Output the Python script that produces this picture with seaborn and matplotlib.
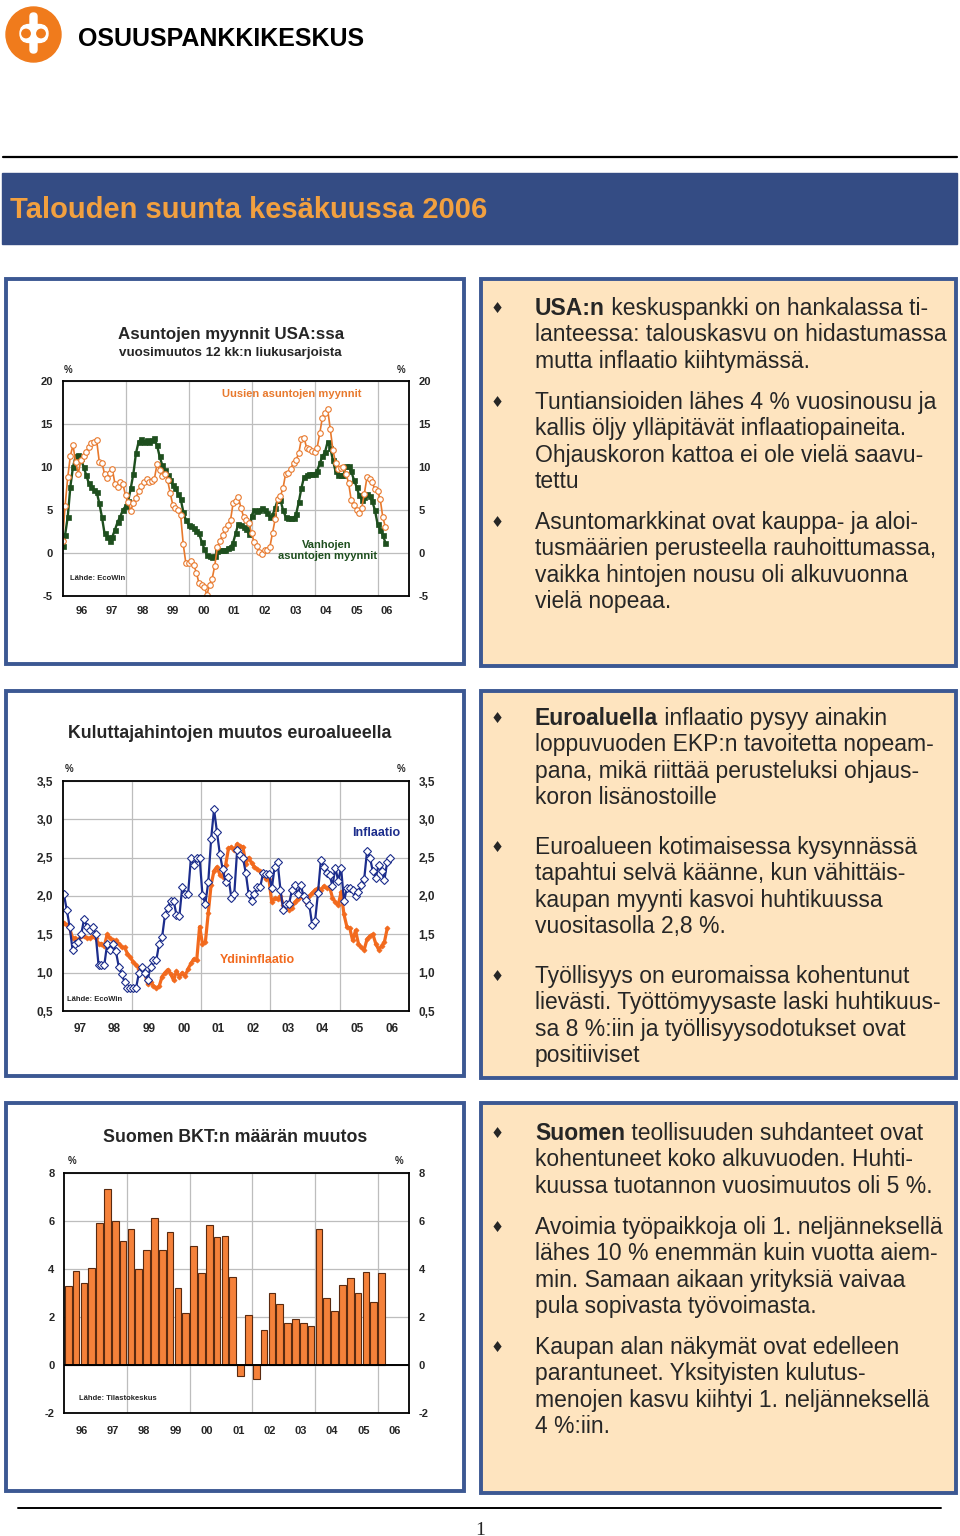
import numpy as np
import pandas as pd
import matplotlib
matplotlib.use('Agg')
import matplotlib.pyplot as plt
import seaborn as sns
from matplotlib.patches import Rectangle, Circle, FancyBboxPatch

W, H = 960, 1536

# USA: home sales, y/y change of 12 month rolling sums, %, monthly from Jan 1996
new_home_sales = [
    1.4, 5.5, 8.8, 11.3, 12.5, 10.6, 9.2, 10.8, 11.3, 11.7, 12.3, 12.8,
    12.9, 13.1, 10.6, 10.5, 9.2, 8.7, 9.3, 9.7, 8.0, 7.7, 8.2, 8.0,
    6.7, 5.9, 4.9, 5.8, 6.4, 7.2, 7.8, 8.2, 8.6, 8.2, 8.3, 8.6,
    10.3, 9.6, 8.9, 9.2, 8.5, 7.0, 5.6, 5.2, 5.0, 4.4, 1.0, -1.2,
    -1.2, -0.9, -1.4, -2.3, -3.5, -3.7, -3.9, -4.9, -3.7, -3.0, -1.5, 0.7,
    1.4, 2.1, 2.8, 3.3, 3.8, 5.8, 6.0, 6.5, 5.2, 4.2, 3.8, 3.5,
    2.3, 1.3, 0.8, 0.1, -0.1, 0.3, 0.3, 0.7, 2.3, 3.9, 6.3, 6.6,
    7.5, 9.2, 9.3, 9.8, 10.5, 10.8, 11.6, 13.2, 13.4, 12.2, 12.1, 11.8,
    11.7, 12.2, 13.9, 15.7, 16.2, 16.7, 14.4, 12.0, 10.5, 9.8, 9.9, 10.0,
    9.2, 8.1, 6.1, 5.6, 5.0, 4.6, 5.2, 6.9, 8.8, 8.6, 8.2, 7.4,
    7.2, 6.3, 4.2, 3.0,
]
existing_home_sales = [
    0.8, 2.1, 4.2, 7.7, 10.0, 11.2, 11.4, 11.0, 10.0, 9.1, 8.1, 7.7,
    7.3, 7.1, 5.8, 4.2, 2.3, 1.9, 1.4, 1.9, 2.7, 3.6, 4.2, 5.0,
    5.4, 6.0, 7.5, 9.2, 11.6, 12.9, 13.2, 12.9, 13.1, 12.9, 13.1, 13.3,
    12.5, 11.2, 10.2, 9.6, 9.1, 8.5, 7.9, 7.5, 6.9, 6.3, 4.8, 3.8,
    3.3, 3.1, 2.9, 2.5, 2.3, 1.3, 0.5, -0.2, -0.4, -0.5, -0.4, 0.2,
    0.3, 0.3, 0.3, 0.6, 0.7, 1.2, 2.3, 3.4, 3.3, 3.0, 2.8, 2.2,
    4.3, 5.0, 4.9, 5.0, 5.2, 5.0, 4.6, 4.2, 4.4, 5.2, 6.2, 6.2,
    5.0, 4.2, 4.1, 4.0, 4.0, 4.5, 5.9, 7.5, 8.8, 9.0, 9.2, 9.2,
    9.2, 9.5, 10.4, 11.2, 11.7, 12.9, 12.2, 10.8, 9.5, 9.0, 9.0, 9.0,
    10.1, 10.1, 9.5, 8.5, 7.7, 6.7, 6.2, 6.5, 6.8, 6.6, 6.0, 5.0,
    3.4, 2.7, 2.1, 1.2,
]

# Euro area consumer prices, y/y %, monthly from Jan 1997
hicp_inflation = [
    2.02, 1.82, 1.60, 1.30, 1.38, 1.40, 1.50, 1.70, 1.60, 1.55, 1.60, 1.50,
    1.10, 1.10, 1.10, 1.38, 1.30, 1.38, 1.28, 1.08, 0.98, 0.88, 0.80, 0.80,
    0.80, 0.80, 1.00, 1.08, 1.00, 0.90, 1.08, 1.16, 1.16, 1.38, 1.46, 1.75,
    1.85, 1.94, 1.94, 1.75, 1.74, 2.12, 2.02, 2.02, 2.50, 2.40, 2.50, 2.50,
    2.01, 1.90, 2.18, 2.75, 3.13, 2.84, 2.55, 2.35, 2.18, 2.25, 1.97, 2.02,
    2.60, 2.54, 2.50, 2.30, 2.02, 1.93, 2.02, 2.12, 2.12, 2.30, 2.29, 2.29,
    2.10, 2.38, 2.45, 2.08, 1.82, 1.90, 1.90, 2.08, 2.15, 2.02, 2.15, 2.00,
    1.95, 1.88, 1.62, 1.68, 2.04, 2.47, 2.38, 2.30, 2.28, 2.13, 2.37, 2.20,
    2.37, 1.93, 2.10, 2.10, 2.08, 2.00, 2.05, 2.15, 2.22, 2.59, 2.50, 2.32,
    2.24, 2.40, 2.33, 2.21, 2.45, 2.50,
]
core_inflation = [
    1.65, 1.62, 1.58, 1.45, 1.45, 1.42, 1.48, 1.48, 1.45, 1.45, 1.48, 1.45,
    1.38, 1.38, 1.35, 1.50, 1.45, 1.42, 1.42, 1.38, 1.33, 1.33, 1.25, 1.20,
    1.14, 1.10, 1.05, 1.04, 1.00, 0.85, 0.88, 0.83, 0.80, 0.82, 0.95, 1.00,
    1.04, 0.98, 0.90, 1.02, 0.95, 1.00, 0.96, 1.05, 1.12, 1.18, 1.16, 1.60,
    1.38, 1.40, 1.78, 2.15, 2.33, 2.38, 2.28, 2.25, 2.40, 2.62, 2.64, 2.60,
    2.68, 2.65, 2.64, 2.42, 2.50, 2.43, 2.38, 2.35, 2.32, 2.28, 2.22, 2.22,
    1.92, 1.97, 1.96, 2.00, 1.88, 1.90, 1.82, 1.85, 1.92, 1.96, 2.00, 1.97,
    1.92, 2.00, 2.04, 2.08, 2.10, 2.08, 2.13, 2.10, 2.12, 1.98, 1.92, 1.88,
    2.05, 1.76, 1.60, 1.58, 1.42, 1.55, 1.38, 1.33, 1.30, 1.44, 1.48, 1.50,
    1.38, 1.30, 1.35, 1.40, 1.58,
]

# Finland GDP volume, y/y %, quarterly from 1996 Q1
gdp_change = [
    3.32, 3.92, 3.42, 4.07, 5.92, 7.33, 6.01, 5.19, 5.69, 4.03, 4.82, 6.15,
    4.82, 5.56, 3.21, 2.19, 4.99, 3.86, 5.83, 5.33, 5.40, 3.69, -0.44, 2.08,
    -0.57, 1.49, 3.03, 2.57, 1.76, 1.94, 1.75, 1.62, 5.69, 2.82, 2.25, 3.35,
    3.64, 3.00, 3.90, 2.64, 3.86,
]

labels_96 = ['96', '97', '98', '99', '00', '01', '02', '03', '04', '05', '06']
labels_97 = labels_96[1:]

usa_bullets = [
    ('USA:n', [' keskuspankki on hankalassa ti-',
               'lanteessa: talouskasvu on hidastumassa',
               'mutta inflaatio kiihtymässä.']),
    ('', ['Tuntiansioiden lähes 4 % vuosinousu ja',
          'kallis öljy ylläpitävät inflaatiopaineita.',
          'Ohjauskoron kattoa ei ole vielä saavu-',
          'tettu']),
    ('', ['Asuntomarkkinat ovat kauppa- ja aloi-',
          'tusmäärien perusteella rauhoittumassa,',
          'vaikka hintojen nousu oli alkuvuonna',
          'vielä nopeaa.']),
]
euro_bullets = [
    ('Euroaluella', [' inflaatio pysyy ainakin',
                     'loppuvuoden EKP:n tavoitetta nopeam-',
                     'pana, mikä riittää perusteluksi ohjaus-',
                     'koron lisänostoille']),
    ('', ['Euroalueen kotimaisessa kysynnässä',
          'tapahtui selvä käänne, kun vähittäis-',
          'kaupan myynti kasvoi huhtikuussa',
          'vuositasolla 2,8 %.']),
    ('', ['Työllisyys on euromaissa kohentunut',
          'lievästi. Työttömyysaste laski huhtikuus-',
          'sa 8 %:iin ja työllisyysodotukset ovat',
          'positiiviset']),
]
fin_bullets = [
    ('Suomen', [' teollisuuden suhdanteet ovat',
                'kohentuneet koko alkuvuoden. Huhti-',
                'kuussa tuotannon vuosimuutos oli 5 %.']),
    ('', ['Avoimia työpaikkoja oli 1. neljänneksellä',
          'lähes 10 % enemmän kuin vuotta aiem-',
          'min. Samaan aikaan yrityksiä vaivaa',
          'pula sopivasta työvoimasta.']),
    ('', ['Kaupan alan näkymät ovat edelleen',
          'parantuneet. Yksityisten kulutus-',
          'menojen kasvu kiihtyi 1. neljänneksellä',
          '4 %:iin.']),
]

BLUE_FRAME = '#3C5893'
PEACH = '#FEE4BF'
OP_ORANGE = '#F07B1C'


def px_axes(fig, x0, y0, x1, y1):
    """Axes placed by pixel box (top-left origin)."""
    return fig.add_axes([x0 / W, 1 - y1 / H, (x1 - x0) / W, (y1 - y0) / H])


def style_chart(ax, xlim, ylim, yticks, ylabels, grid_x, label_x, labels,
                size, xpad):
    ax.set_facecolor('none')
    ax.set_xlim(xlim)
    ax.set_ylim(ylim)
    ax.set_yticks(yticks, labels=ylabels)
    ax.set_xticks(grid_x, labels=[''] * len(grid_x))
    ax.set_xticks(label_x, labels=labels, minor=True)
    ax.tick_params(axis='both', which='both', length=0, labelsize=size)
    ax.tick_params(axis='y', labelleft=True, labelright=True, pad=7)
    ax.tick_params(axis='x', which='minor', pad=xpad)
    ax.grid(True, which='major', color='#BDBDBD', linewidth=0.9)
    ax.grid(False, which='minor')
    ax.set_axisbelow(True)
    for s in ax.spines.values():
        s.set_visible(True)
        s.set_color('black')
        s.set_linewidth(1.3)
    ax.set_xlabel('')
    ax.set_ylabel('')


def draw_bullets(ax, renderer, bullets, starts, step=26.3):
    for (bold, lines), y0 in zip(bullets, starts):
        ax.text(497, y0 + 6, '\u2666', fontsize=10.5, ha='center',
                va='baseline', family=['DejaVu Sans'])
        for k, line in enumerate(lines):
            y = y0 + k * step + 8
            x = 535
            if k == 0 and bold:
                t = ax.text(x, y, bold, fontsize=16.5, fontweight='bold',
                            va='baseline')
                bb = t.get_window_extent(renderer)
                x = ax.transData.inverted().transform((bb.x1, bb.y0))[0]
            ax.text(x, y, line, fontsize=16.5, fontweight='normal',
                    va='baseline')


def main():
    sns.set_theme(style='white')
    plt.rcParams['font.family'] = ['Liberation Sans', 'DejaVu Sans']
    plt.rcParams['font.weight'] = 'bold'

    fig = plt.figure(figsize=(W / 100, H / 100), dpi=100)
    renderer = fig.canvas.get_renderer()

    # page background layer in pixel coordinates
    bg = fig.add_axes([0, 0, 1, 1], zorder=-10)
    bg.set_xlim(0, W)
    bg.set_ylim(H, 0)
    bg.axis('off')

    # logo
    bg.add_patch(Circle((33.5, 34.5), 27.5, color=OP_ORANGE))
    bg.add_patch(FancyBboxPatch((20, 24.5), 28, 18,
                                boxstyle='round,pad=0,rounding_size=9',
                                color='white'))
    bg.add_patch(FancyBboxPatch((30, 13), 7, 40,
                                boxstyle='round,pad=0,rounding_size=3.5',
                                color='white'))
    bg.add_patch(Circle((26, 33.5), 4.2, color=OP_ORANGE))
    bg.add_patch(Circle((41, 33.5), 4.2, color=OP_ORANGE))
    bg.text(78, 46, 'OSUUSPANKKIKESKUS', fontsize=18, fontweight='bold',
            va='baseline', color='black')

    bg.plot([3, 957], [157, 157], color='black', linewidth=1.6)
    bg.add_patch(Rectangle((2, 173), 955, 71, color='#344C84'))
    bg.text(10, 218, 'Talouden suunta kesäkuussa 2006', fontsize=21,
            fontweight='bold', color='#F2A03F', va='baseline')

    # panels
    for top, bottom in [(279, 664), (691, 1076), (1103, 1491)]:
        bg.add_patch(Rectangle((6, top), 458, bottom - top, facecolor='white',
                               edgecolor=BLUE_FRAME, linewidth=2.8))
        bg.add_patch(Rectangle((481, top), 475, bottom - top + 2,
                               facecolor=PEACH, edgecolor=BLUE_FRAME,
                               linewidth=2.8))

    draw_bullets(bg, renderer, usa_bullets, [307, 401, 521])
    draw_bullets(bg, renderer, euro_bullets, [717, 846, 975])
    draw_bullets(bg, renderer, fin_bullets, [1132, 1226, 1346])

    bg.plot([18, 941], [1508, 1508], color='black', linewidth=1.4)
    bg.text(480, 1535, '1', fontsize=14, fontweight='normal', ha='center',
            va='baseline', family=['Liberation Serif'])

    # ---- chart 1: US home sales ----
    housing = pd.DataFrame({
        't': 1996 + np.arange(len(new_home_sales)) / 12,
        'new': new_home_sales,
        'existing': existing_home_sales,
    })
    ax1 = px_axes(fig, 62.5, 380.7, 409, 596)
    sns.lineplot(data=housing, x='t', y='existing', ax=ax1, color='#1E4F1E',
                 linewidth=1.7, marker='s', markersize=3.6,
                 markeredgecolor='#1E4F1E', markeredgewidth=0.5)
    sns.lineplot(data=housing, x='t', y='new', ax=ax1, color='#E8792D',
                 linewidth=1.2, marker='o', markersize=4,
                 markerfacecolor='white', markeredgecolor='#E8792D',
                 markeredgewidth=0.8)
    style_chart(ax1, (1996, 2007), (-5, 20), [-5, 0, 5, 10, 15, 20],
                ['-5', '0', '5', '10', '15', '20'],
                [1998, 2000, 2002, 2004, 2006],
                np.linspace(1996.6, 2006.3, 11), labels_96, 8, 7.5)
    ax1.text(2003.27, 18.4, 'Uusien asuntojen myynnit', color='#E8792D',
             fontsize=8, ha='center', va='center')
    ax1.text(2004.4, 0.25, 'Vanhojen\nasuntojen myynnit', color='#1E4F1E',
             fontsize=8, ha='center', va='center', linespacing=1.1)
    ax1.text(1996.24, -2.94, 'Lähde: EcoWin', fontsize=5.5, va='center')
    bg.text(231, 334, 'Asuntojen myynnit USA:ssa', fontsize=12.2,
            ha='center', va='center')
    bg.text(230, 353, 'vuosimuutos 12 kk:n liukusarjoista', fontsize=9.6,
            ha='center', va='center')
    bg.text(68, 370, '%', fontsize=7, ha='center', va='center')
    bg.text(401, 370, '%', fontsize=7, ha='center', va='center')

    # ---- chart 2: euro area consumer prices ----
    ax2 = px_axes(fig, 62.5, 781, 409, 1011)
    t_hicp = 1997.04 + np.arange(len(hicp_inflation)) / 12
    t_core = 1997.04 + np.arange(len(core_inflation)) / 12
    sns.lineplot(x=t_core, y=core_inflation, ax=ax2, color='#F26A1E',
                 linewidth=2.3, marker='D', markersize=2.6,
                 markeredgecolor='#F26A1E', markeredgewidth=0.5)
    sns.lineplot(x=t_hicp, y=hicp_inflation, ax=ax2, color='#1C2D8C',
                 linewidth=1.6, marker='D', markersize=3.8,
                 markerfacecolor='white', markeredgecolor='#1C2D8C',
                 markeredgewidth=0.8)
    yt2 = [0.5, 1.0, 1.5, 2.0, 2.5, 3.0, 3.5]
    style_chart(ax2, (1997, 2007), (0.5, 3.5), yt2,
                [f'{v:.1f}'.replace('.', ',') for v in yt2],
                [1999, 2001, 2003, 2005],
                np.arange(1997, 2007) + 0.5, labels_97, 8.5, 9)
    ax2.text(2006.05, 2.82, 'Inflaatio', color='#1C2D8C', fontsize=9,
             ha='center', va='center')
    ax2.text(2002.63, 1.165, 'Ydininflaatio', color='#F26A1E', fontsize=9,
             ha='center', va='center')
    ax2.text(1997.12, 0.656, 'Lähde: EcoWin', fontsize=5.5, va='center')
    bg.text(230, 733, 'Kuluttajahintojen muutos euroalueella', fontsize=12.8,
            ha='center', va='center')
    bg.text(69, 769, '%', fontsize=7, ha='center', va='center')
    bg.text(401, 769, '%', fontsize=7, ha='center', va='center')

    # ---- chart 3: Finnish GDP ----
    ax3 = px_axes(fig, 64.3, 1173.3, 409, 1413.3)
    t_gdp = 1996.125 + np.arange(len(gdp_change)) / 4
    sns.barplot(x=t_gdp, y=gdp_change, ax=ax3, native_scale=True,
                color='#F5813A', saturation=1, edgecolor='#5A2A10',
                linewidth=0.8, errorbar=None, width=0.85)
    ax3.axhline(0, color='black', linewidth=1.4, zorder=3)
    style_chart(ax3, (1996, 2007), (-2, 8), [-2, 0, 2, 4, 6, 8],
                ['-2', '0', '2', '4', '6', '8'],
                [1998, 2000, 2002, 2004, 2006],
                np.arange(1996, 2007) + 0.55, labels_96, 8, 9)
    ax3.text(1996.48, -1.375, 'Lähde: Tilastokeskus', fontsize=5.5,
             va='center')
    bg.text(235, 1138, 'Suomen BKT:n määrän muutos', fontsize=12.8,
            ha='center', va='center')
    bg.text(72, 1161, '%', fontsize=7, ha='center', va='center')
    bg.text(399, 1161, '%', fontsize=7, ha='center', va='center')

    fig.savefig('out.png', dpi=100)


if __name__ == '__main__':
    main()
